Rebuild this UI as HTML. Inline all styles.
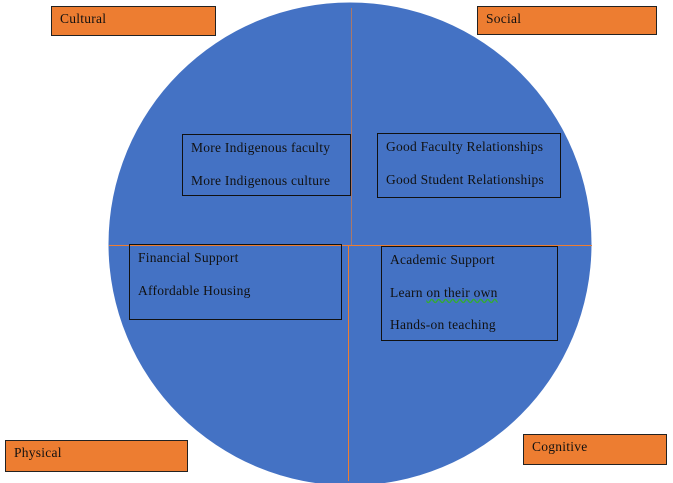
<!DOCTYPE html>
<html><head><style>
body{margin:0;width:673px;height:483px;background:#fff;position:relative;overflow:hidden;font-family:"Liberation Serif",serif;font-size:13.5px;letter-spacing:0.25px;color:#111;}
.o{position:absolute;background:#ed7d31;border:1px solid #222;box-sizing:border-box;padding:4px 0 0 8px;}
.b{position:absolute;border:1px solid #111;box-sizing:border-box;}
.t{position:absolute;white-space:nowrap;}
</style></head><body>
<svg width="673" height="483" style="position:absolute;left:0;top:0">
<circle cx="350" cy="244" r="241.5" fill="#4472c4"/>
<rect x="351" y="8" width="1" height="237" fill="#ed7d31" opacity="0.6"/>
<rect x="348" y="245" width="1" height="236" fill="#ed7d31"/>
<rect x="109" y="245" width="483" height="1" fill="#ed7d31"/>
</svg>
<div class="o" style="left:51px;top:6px;width:165px;height:30px">Cultural</div>
<div class="o" style="left:477px;top:6px;width:180px;height:29px">Social</div>
<div class="o" style="left:5px;top:440px;width:183px;height:32px">Physical</div>
<div class="o" style="left:523px;top:434px;width:144px;height:31px">Cognitive</div>
<div class="b" style="left:182px;top:134px;width:169px;height:62px"></div>
<div class="t" style="left:191px;top:140px">More Indigenous faculty</div>
<div class="t" style="left:191px;top:173px">More Indigenous culture</div>
<div class="b" style="left:377px;top:133px;width:184px;height:65px"></div>
<div class="t" style="left:386px;top:139px">Good Faculty Relationships</div>
<div class="t" style="left:386px;top:172px">Good Student Relationships</div>
<div class="b" style="left:129px;top:244px;width:213px;height:76px"></div>
<div class="t" style="left:138px;top:250px">Financial Support</div>
<div class="t" style="left:138px;top:283px">Affordable Housing</div>
<div class="b" style="left:381px;top:246px;width:177px;height:95px"></div>
<div class="t" style="left:390px;top:252px">Academic Support</div>
<div class="t" style="left:390px;top:285px">Learn <span style="text-decoration:underline wavy #3a3;">on their own</span></div>
<div class="t" style="left:390px;top:317px">Hands-on teaching</div>
</body></html>
